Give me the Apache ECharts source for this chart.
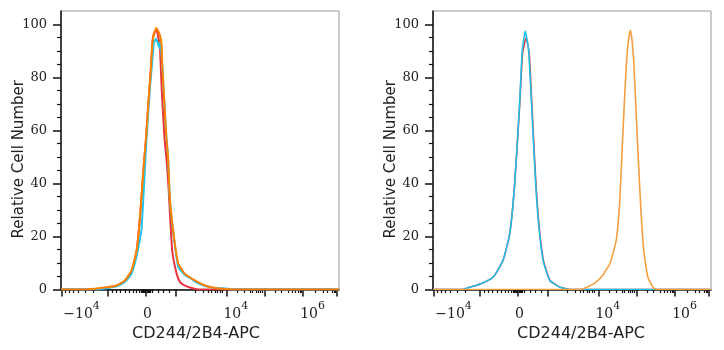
<!DOCTYPE html>
<html>
<head>
<meta charset="utf-8">
<script src="https://cdn.jsdelivr.net/npm/echarts@6/dist/echarts.min.js"></script>
<style>html,body{margin:0;padding:0;background:#fff}#c{width:724px;height:350px}</style>
</head>
<body>
<div id="c"></div>
<script>
// ---- tick positions on the biexponential display scale (channel units 0..1000)
var xMajorTicks = [4, 169, 306, 414, 595, 734, 870, 993];
var xMinorTicks = [14, 29, 43, 61, 86, 115, 183, 198, 212, 230, 245, 259, 270, 281, 288, 291, 295, 299, 302,
  309, 313, 317, 320, 330, 350, 368, 390, 482, 512, 530, 542, 554, 562, 572, 581,
  635, 660, 679, 688, 701, 710, 718, 725, 770, 794, 816, 831, 842, 853, 860, 865,
  913, 943, 958, 974, 982, 988];
var xLabelPos = [74, 311, 629, 905];
var xLabelBase = ['\u221210', '0', '10', '10'];
var xLabelSup = ['4', '', '4', '6'];
var yMajorTicks = [0, 20, 40, 60, 80, 100];
var yMinorTicks = [5, 10, 15, 25, 30, 35, 45, 50, 55, 65, 70, 75, 85, 90, 95];

// ---- series: [display channel, relative cell number]
var leftRed = [[0,0],[90,0],[125,0.2],[170,0.8],[200,1.4],[230,3.2],[254,7],[272,14.5],[284,27],[299,48],[306,57],[314,69.5],[323,82.5],[328,91.5],[332,95.5],[343,98.2],[352,94],[356,91.4],[362,76],[372,57.5],[380,48.7],[386,40],[400,14.7],[416,5.9],[428,2.8],[446,1.5],[470,0.6],[500,0],[1000,0]];
var leftCyan = [[0,0],[133,0],[169,0.6],[200,1.2],[230,2.8],[254,6],[272,12.5],[284,19],[290,23],[299,40],[308,57.5],[320,76],[329,87],[334,93],[342,94.5],[348,93],[354,91],[357,93.3],[364,85],[372,70],[379,57.5],[385,50],[392,33],[408,18],[422,8.4],[446,5.5],[470,4],[482,3],[518,1.3],[554,0.6],[600,0.3],[612,0],[1000,0]];
var leftOrange = [[0,0],[86,0],[122,0.3],[170,0.9],[200,1.5],[230,3.4],[254,7.2],[272,14.7],[284,27.3],[299,48.7],[306,57.5],[314,70],[323,83],[328,92],[332,95.8],[343,98.6],[356,95.8],[362,92],[364,85],[372,70],[379,57.5],[385,50],[392,33.6],[408,18.5],[422,9.7],[446,5.9],[482,3.4],[518,1.5],[554,0.6],[590,0.2],[608,0],[1000,0]];
var rightRed = [[0,0],[108,0],[120,0.5],[168,2],[216,4.6],[252,11],[276,21],[294,40],[312,70],[322,89],[335,95],[346,89],[355,71],[367,46],[379,27],[397,11],[421,3.4],[457,0.9],[492,0],[1000,0]];
var rightCyan = [[0,0],[108,0],[120,0.5],[168,2],[216,4.6],[252,11],[276,21],[294,40],[312,71],[321,90],[332,97.4],[344,90],[354,71],[366,46],[378,27],[396,11],[420,3.4],[456,0.9],[492,0],[1000,0]];
var rightOrange = [[0,0],[528,0],[540,0.3],[576,2],[605,4.6],[636,9.7],[659,18.5],[672,33.6],[683,59],[695,84],[703,94],[710,97.7],[716,94],[723,84],[734,59],[746,33.6],[758,14.7],[773,4.6],[791,0.9],[803,0],[1000,0]];

var serif = 'DejaVu Serif';
var sans = 'DejaVu Sans';
var panels = [
  {left: 61, namePad: [0, 8, 0, 0], series: [
    {d: leftRed, c: '#e8323c', w: 2},
    {d: leftCyan, c: '#22c4ee', w: 2},
    {d: leftOrange, c: '#ff8000', w: 2}]},
  {left: 433, namePad: [0, 0, 0, 18], series: [
    {d: rightRed, c: '#e03a3a', w: 1.6},
    {d: rightCyan, c: '#20bfea', w: 1.6},
    {d: rightOrange, c: '#f5a040', w: 1.6}]}
];

var grids = [], xAxes = [], yAxes = [], series = [];
panels.forEach(function (p, gi) {
  grids.push({left: p.left, top: 11, width: 278, height: 278.5, show: true,
    borderColor: '#9a9a9a', borderWidth: 1, containLabel: false});
  xAxes.push({
    type: 'value', gridIndex: gi, min: 0, max: 1000, position: 'bottom',
    name: 'CD244/2B4-APC', nameLocation: 'middle', nameGap: 36, nameMoveOverlap: false,
    nameTextStyle: {fontFamily: sans, fontSize: 16, color: '#222', padding: p.namePad},
    axisLine: {show: true, lineStyle: {color: '#111', width: 1.5}},
    axisTick: {show: true, length: 7, lineStyle: {color: '#111', width: 1.5}, customValues: xMajorTicks},
    splitLine: {show: false},
    axisLabel: {
      customValues: xLabelPos, margin: 32, verticalAlign: 'bottom', color: '#222',
      formatter: function (v) {
        var i = xLabelPos.indexOf(v);
        if (i < 0) return '';
        var s = '{b|' + xLabelBase[i] + '}';
        if (xLabelSup[i]) s += '{s|' + xLabelSup[i] + '}';
        return s;
      },
      rich: {
        b: {fontFamily: serif, fontSize: 14, lineHeight: 16, verticalAlign: 'bottom', color: '#222'},
        s: {fontFamily: serif, fontSize: 11, lineHeight: 16, verticalAlign: 'bottom', padding: [0, 0, 10, 0], color: '#222'}
      }
    }
  });
  xAxes.push({
    type: 'value', gridIndex: gi, min: 0, max: 1000, position: 'bottom', offset: 0,
    axisLine: {show: false},
    axisTick: {show: true, length: 3.5, lineStyle: {color: '#111', width: 1.2}, customValues: xMinorTicks},
    axisLabel: {show: false}, splitLine: {show: false}
  });
  yAxes.push({
    type: 'value', gridIndex: gi, min: 0, max: 105, position: 'left',
    name: 'Relative Cell Number', nameLocation: 'middle', nameGap: 34, nameRotate: 90, nameMoveOverlap: false,
    nameTextStyle: {fontFamily: sans, fontSize: 15, color: '#222', padding: [0, 18, 0, 0]},
    axisLine: {show: true, lineStyle: {color: '#111', width: 1.5}},
    axisTick: {show: true, length: 8, lineStyle: {color: '#111', width: 1.5}, customValues: yMajorTicks},
    axisLabel: {customValues: yMajorTicks, margin: 14, fontFamily: serif, fontSize: 13, color: '#222'},
    splitLine: {show: false}
  });
  yAxes.push({
    type: 'value', gridIndex: gi, min: 0, max: 105, position: 'left', offset: 0,
    axisLine: {show: false},
    axisTick: {show: true, length: 4, lineStyle: {color: '#111', width: 1.2}, customValues: yMinorTicks},
    axisLabel: {show: false}, splitLine: {show: false}
  });
  p.series.forEach(function (s) {
    series.push({
      type: 'line', xAxisIndex: gi * 2, yAxisIndex: gi * 2, data: s.d,
      symbol: 'none', smooth: 0.15, lineStyle: {color: s.c, width: s.w}, z: 3
    });
  });
});

var chart = echarts.init(document.getElementById('c'), null, {renderer: 'canvas'});
chart.setOption({
  animation: false,
  backgroundColor: '#fff',
  grid: grids, xAxis: xAxes, yAxis: yAxes, series: series
});
</script>
</body>
</html>
